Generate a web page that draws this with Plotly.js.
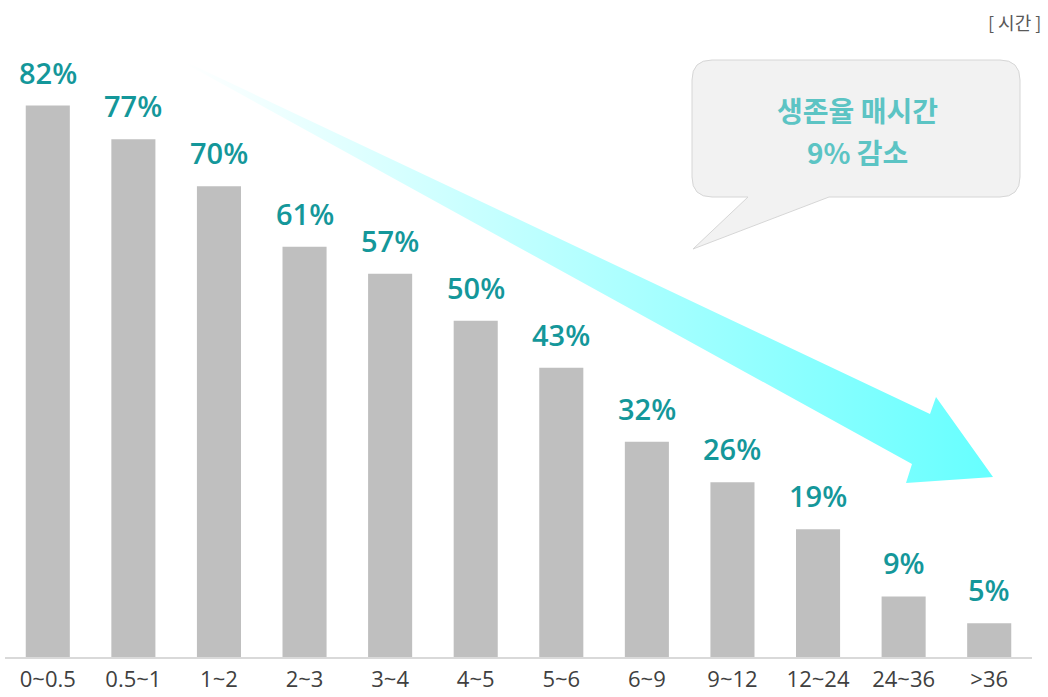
<!DOCTYPE html>
<html>
<head>
<meta charset="utf-8">
<script src="https://cdn.plot.ly/plotly-3.0.1.min.js"></script>
<style>html,body{margin:0;padding:0;background:#fff;}#chart{width:1048px;height:697px;}</style>
</head>
<body>
<div id="chart"></div>
<script>
// ---- data ----
const categories = ['0~0.5','0.5~1','1~2','2~3','3~4','4~5','5~6','6~9','9~12','12~24','24~36','>36'];
const survival = [82, 77, 70, 61, 57, 50, 43, 32, 26, 19, 9, 5];
const valueLabels = survival.map(v => v + '%');
const unitLabel = '[ 시간 ]';
const calloutLines = ['생존율 매시간', '9% 감소'];

// ---- decoration geometry (pixel-space overlay axes) ----
const arrowX = [186, 930, 936, 993, 906, 912, 186];
const arrowY = [62, 414, 397, 477, 483, 464, 64];

const teal = '#14979a';

const bars = {
  type: 'bar',
  x: categories,
  y: survival,
  marker: {color: '#bfbfbf'},
  hoverinfo: 'skip'
};

const arrow = {
  type: 'scatter',
  x: arrowX,
  y: arrowY,
  xaxis: 'x2',
  yaxis: 'y2',
  mode: 'lines',
  line: {width: 0},
  fill: 'toself',
  fillcolor: '#a0ffff',
  fillgradient: {type: 'horizontal', colorscale: [[0, '#ffffff'], [1, '#66ffff']]},
  hoverinfo: 'skip',
  showlegend: false
};

const annotations = categories.map((c, i) => ({
  x: c, y: survival[i], xref: 'x', yref: 'y',
  text: valueLabels[i], showarrow: false,
  yanchor: 'bottom', yshift: 12,
  font: {family: 'Open Sans', size: 29, weight: 600, color: teal}
}));

annotations.push({
  x: 1.0107, y: 0.982, xref: 'paper', yref: 'paper', xanchor: 'right', yanchor: 'middle',
  text: unitLabel, showarrow: false,
  font: {family: 'Noto Sans CJK KR', size: 18, color: '#595959'}
});
annotations.push({
  x: 857, y: 110, xref: 'x2', yref: 'y2', xanchor: 'center', yanchor: 'middle',
  text: calloutLines[0], showarrow: false,
  font: {family: 'Noto Sans CJK KR', size: 28, weight: 700, color: '#5cc4c4'}
});
annotations.push({
  x: 857, y: 152, xref: 'x2', yref: 'y2', xanchor: 'center', yanchor: 'middle',
  text: calloutLines[1], showarrow: false,
  font: {family: 'Noto Sans CJK KR', size: 28, weight: 700, color: '#5cc4c4'}
});

const bubblePath = 'M 712 60 L 1000 60 Q 1020 60 1020 80 L 1020 177 Q 1020 197 1000 197 ' +
  'L 829 197 L 693 249 L 748 197 L 712 197 Q 692 197 692 177 L 692 80 Q 692 60 712 60 Z';

const layout = {
  width: 1048, height: 697,
  margin: {l: 5, r: 16, t: 10, b: 40},
  paper_bgcolor: '#ffffff',
  plot_bgcolor: '#ffffff',
  showlegend: false,
  bargap: 0.485,
  xaxis: {
    type: 'category',
    showgrid: false, zeroline: false,
    showline: true, linecolor: '#d9d9d9', linewidth: 2,
    ticks: '', ticklabelstandoff: 2,
    tickfont: {family: 'Open Sans', size: 22, color: '#404040'},
    fixedrange: true
  },
  yaxis: {
    range: [0, 96.2],
    visible: false, showgrid: false, zeroline: false,
    fixedrange: true
  },
  xaxis2: {overlaying: 'x', anchor: 'y2', range: [5, 1032], visible: false, fixedrange: true},
  yaxis2: {overlaying: 'y', anchor: 'x2', range: [657, 10], visible: false, fixedrange: true},
  shapes: [{
    type: 'path', xref: 'x2', yref: 'y2', path: bubblePath,
    fillcolor: '#f2f2f2', line: {color: '#d6d6d6', width: 1}
  }],
  annotations: annotations
};

Plotly.newPlot('chart', [arrow, bars], layout, {displayModeBar: false, staticPlot: true});
</script>
</body>
</html>
